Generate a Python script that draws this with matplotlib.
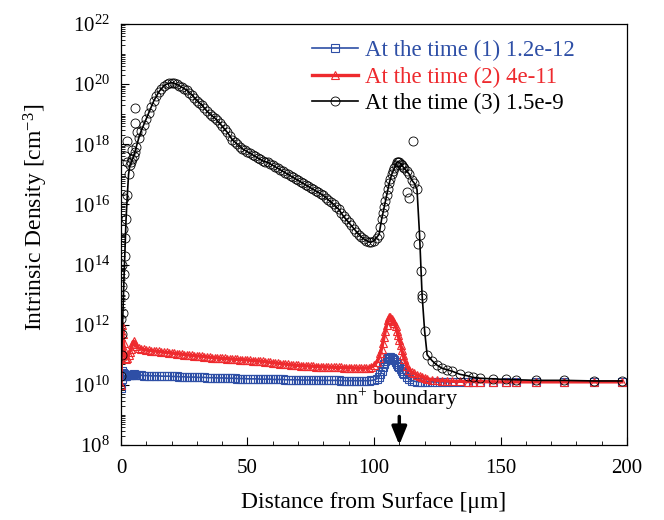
import numpy as np
import matplotlib
matplotlib.use("Agg")
import matplotlib.pyplot as plt
from matplotlib.ticker import FixedLocator, LogLocator, NullFormatter

plt.rcParams['font.family'] = ['Liberation Serif', 'DejaVu Serif']
plt.rcParams['mathtext.fontset'] = 'custom'
plt.rcParams['mathtext.rm'] = 'Liberation Serif'
plt.rcParams['mathtext.it'] = 'Liberation Serif:italic'

# mesh positions [um], shared by the three time steps
x_mesh = [0, 0.25, 0.5, 0.75, 1, 1.25, 1.5, 1.75, 2, 2.5,
          3, 3.5, 4, 4.5, 5, 5.5, 6, 7, 8, 9,
          10, 11, 12, 13, 14, 15, 16, 17, 18, 19,
          20, 21, 22, 23, 24, 25, 26, 27, 28, 29,
          30, 31, 32, 33, 34, 35, 36, 37, 38, 39,
          40, 41, 42, 43, 44, 45, 46, 47, 48, 49,
          50, 51, 52, 53, 54, 55, 56, 57, 58, 59,
          60, 61, 62, 63, 64, 65, 66, 67, 68, 69,
          70, 71, 72, 73, 74, 75, 76, 77, 78, 79,
          80, 81, 82, 83, 84, 85, 86, 87, 88, 89,
          90, 91, 92, 93, 94, 95, 96, 97, 98, 99,
          100, 101, 102, 102.5, 103, 103.5, 104, 104.5, 105, 105.5,
          106, 106.5, 107, 107.5, 108, 108.5, 109, 109.5, 110, 110.5,
          111, 111.5, 112, 113, 114, 115, 116, 117, 118, 119,
          120, 121, 123, 125, 127, 129, 131, 134, 137, 139,
          142, 147, 152, 156, 164, 175, 187, 198]

# log10 of intrinsic density [cm^-3], time (1)
log_n1 = [9.9, 10.2, 10.45, 10.4, 10.35, 10.3, 10.3, 10.3, 10.3, 10.32,
          10.33, 10.33, 10.33, 10.34, 10.35, 10.34, 10.33, 10.32, 10.32, 10.31,
          10.31, 10.31, 10.3, 10.3, 10.3, 10.3, 10.29, 10.29, 10.29, 10.29,
          10.28, 10.28, 10.28, 10.27, 10.27, 10.27, 10.26, 10.26, 10.26, 10.26,
          10.25, 10.25, 10.25, 10.25, 10.24, 10.24, 10.24, 10.24, 10.23, 10.23,
          10.23, 10.23, 10.22, 10.22, 10.22, 10.22, 10.21, 10.21, 10.21, 10.21,
          10.2, 10.2, 10.2, 10.2, 10.2, 10.19, 10.19, 10.19, 10.19, 10.19,
          10.18, 10.18, 10.18, 10.18, 10.18, 10.17, 10.17, 10.17, 10.17, 10.17,
          10.17, 10.16, 10.16, 10.16, 10.16, 10.16, 10.16, 10.16, 10.15, 10.15,
          10.15, 10.15, 10.15, 10.15, 10.15, 10.15, 10.15, 10.14, 10.14, 10.14,
          10.14, 10.14, 10.14, 10.14, 10.14, 10.14, 10.14, 10.14, 10.14, 10.15,
          10.16, 10.2, 10.25, 10.35, 10.45, 10.58, 10.7, 10.78, 10.85, 10.9,
          10.92, 10.92, 10.9, 10.86, 10.82, 10.76, 10.7, 10.64, 10.58, 10.52,
          10.45, 10.4, 10.35, 10.25, 10.18, 10.14, 10.12, 10.11, 10.1, 10.1,
          10.1, 10.1, 10.1, 10.1, 10.1, 10.1, 10.1, 10.1, 10.1, 10.1,
          10.1, 10.1, 10.1, 10.1, 10.1, 10.1, 10.1, 10.1]

# time (2)
log_n2 = [10.0, 11.2, 12.0, 11.7, 11.4, 11.2, 11.0, 10.9, 10.85, 10.9,
          11.0, 11.1, 11.2, 11.35, 11.45, 11.35, 11.3, 11.22, 11.2, 11.18,
          11.16, 11.15, 11.14, 11.13, 11.12, 11.11, 11.1, 11.09, 11.08, 11.07,
          11.06, 11.05, 11.04, 11.03, 11.02, 11.01, 11.0, 10.99, 10.98, 10.97,
          10.96, 10.96, 10.95, 10.94, 10.93, 10.92, 10.91, 10.9, 10.9, 10.89,
          10.88, 10.88, 10.87, 10.86, 10.86, 10.85, 10.85, 10.84, 10.84, 10.83,
          10.83, 10.82, 10.81, 10.8, 10.8, 10.79, 10.78, 10.77, 10.76, 10.75,
          10.74, 10.73, 10.72, 10.71, 10.7, 10.69, 10.68, 10.67, 10.66, 10.65,
          10.65, 10.64, 10.64, 10.63, 10.63, 10.62, 10.62, 10.61, 10.61, 10.6,
          10.6, 10.6, 10.59, 10.59, 10.59, 10.58, 10.58, 10.58, 10.57, 10.57,
          10.57, 10.57, 10.56, 10.56, 10.56, 10.56, 10.56, 10.56, 10.57, 10.6,
          10.65, 10.75, 10.9, 11.05, 11.2, 11.4, 11.6, 11.8, 12.0, 12.15,
          12.25, 12.25, 12.2, 12.12, 12.05, 11.95, 11.8, 11.65, 11.5, 11.32,
          11.15, 11.0, 10.85, 10.62, 10.48, 10.42, 10.38, 10.33, 10.3, 10.27,
          10.24, 10.2, 10.17, 10.15, 10.14, 10.13, 10.12, 10.12, 10.11, 10.11,
          10.11, 10.1, 10.1, 10.1, 10.1, 10.1, 10.1, 10.1]

# time (3)
log_n3 = [10.3, 11.0, 11.7, 12.4, 13.0, 13.7, 14.3, 14.9, 15.5, 16.3,
          17.0, 17.3, 17.4, 17.5, 17.6, 17.75, 17.9, 18.2, 18.45, 18.65,
          18.85, 19.05, 19.25, 19.45, 19.6, 19.75, 19.85, 19.95, 20.0, 20.03,
          20.05, 20.03, 20.0, 19.95, 19.9, 19.85, 19.8, 19.72, 19.65, 19.55,
          19.45, 19.38, 19.3, 19.2, 19.1, 19.02, 18.95, 18.88, 18.8, 18.7,
          18.6, 18.5, 18.4, 18.28, 18.15, 18.08, 18.0, 17.92, 17.85, 17.8,
          17.75, 17.7, 17.65, 17.6, 17.55, 17.5, 17.45, 17.42, 17.4, 17.35,
          17.3, 17.25, 17.2, 17.15, 17.1, 17.05, 17.0, 16.95, 16.9, 16.85,
          16.8, 16.75, 16.7, 16.65, 16.6, 16.55, 16.5, 16.45, 16.4, 16.35,
          16.3, 16.22, 16.15, 16.08, 16.0, 15.92, 15.85, 15.72, 15.6, 15.5,
          15.4, 15.3, 15.2, 15.1, 15.0, 14.92, 14.85, 14.8, 14.75, 14.75,
          14.8, 14.9, 15.0, 15.25, 15.5, 15.7, 15.9, 16.1, 16.3, 16.5,
          16.7, 16.85, 17.0, 17.1, 17.2, 17.3, 17.4, 17.42, 17.4, 17.35,
          17.3, 17.25, 17.2, 17.1, 17.0, 16.8, 16.7, 16.5, 15.0, 13.0,
          11.8, 11.0, 10.8, 10.65, 10.55, 10.5, 10.45, 10.35, 10.3, 10.25,
          10.22, 10.2, 10.18, 10.17, 10.15, 10.15, 10.13, 10.13]

# extra scattered circles of time (3) that sit off the line
x_n3_extra = [0.1, 0.4, 0.6, 0.9, 1.1, 1.6, 2.2, 2.4, 4.5, 5.5, 5.5, 6.3,
              113, 114, 115.5, 117.5, 118.5, 119]
log_n3_extra = [12.2, 13.3, 14.0, 15.2, 16.2, 17.6, 17.4, 18.1, 17.8, 19.2, 18.7, 18.4,
                16.4, 16.2, 18.1, 14.7, 13.8, 12.9]

labels = ['At the time (1) 1.2e-12', 'At the time (2) 4e-11', 'At the time (3) 1.5e-9']
blue = '#2e4fa6'
red = '#ee2a2e'

x = np.array(x_mesh)
n1 = 10 ** np.array(log_n1)
n2 = 10 ** np.array(log_n2)
n3 = 10 ** np.array(log_n3)

fig = plt.figure(figsize=(6.64, 5.2), dpi=100)
ax = fig.add_axes([0.1822, 0.1442, 0.7621, 0.8096])

ax.plot(x, n1, '-s', color=blue, lw=1.2, ms=6, mfc='none', mew=0.8, label=labels[0])
ax.plot(x, n2, '-^', color=red, lw=2.4, ms=6, mfc='none', mew=0.8, label=labels[1])
ax.plot(x, n3, '-o', color='black', lw=1.2, ms=6.5, mfc='none', mew=0.6, label=labels[2])
ax.plot(x_n3_extra, 10 ** np.array(log_n3_extra), 'o', color='black', ms=6.5, mfc='none', mew=0.6)

ax.set_xlim(0, 200)
ax.set_ylim(1e8, 1e22)
ax.set_yscale('log')

ax.yaxis.set_major_locator(FixedLocator([10.0 ** k for k in range(8, 23, 2)]))
ax.yaxis.set_minor_locator(LogLocator(base=10, subs=np.arange(1, 10), numticks=50))
ax.yaxis.set_minor_formatter(NullFormatter())
ax.set_xticks([0, 50, 100, 150, 200])
ax.set_xticks(np.arange(0, 201, 10), minor=True)
ax.tick_params(which='both', direction='in', right=False, top=False, labelsize=15)
ax.tick_params(which='major', length=6, width=0.8)
ax.tick_params(which='minor', length=3, width=0.6)
ax.tick_params(axis='x', pad=10)
ax.tick_params(axis='y', pad=8)
for s in ax.spines.values():
    s.set_linewidth(0.9)

ax.set_xlabel('Distance from Surface [\u03bcm]', fontsize=17, labelpad=10)
ax.set_ylabel('Intrinsic Density [cm$^{-3}$]', fontsize=17)
ax.yaxis.set_label_coords(-0.14, 0.54)

ax.text(109, 10 ** 9.5, 'nn$^{+}$ boundary', ha='center', va='center', fontsize=16)
ax.annotate('', xy=(110, 1e8), xytext=(110, 10 ** 8.95),
            arrowprops=dict(arrowstyle='-|>,head_length=1.1,head_width=0.45',
                            color='black', lw=2.5, shrinkA=0, shrinkB=0),
            annotation_clip=False)

leg = ax.legend(loc='upper left', bbox_to_anchor=(0.36, 0.985), frameon=False,
                fontsize=16.5, handlelength=2.0, handletextpad=0.3, labelspacing=0.25,
                borderaxespad=0)
for t, c in zip(leg.get_texts(), [blue, red, 'black']):
    t.set_color(c)

fig.savefig('out.png', dpi=100)
